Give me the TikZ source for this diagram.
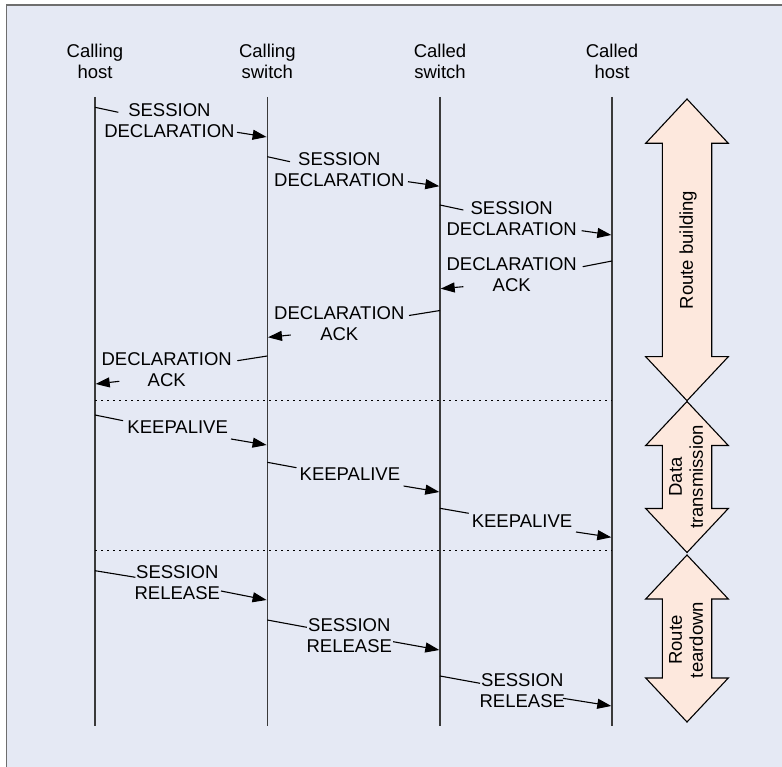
\documentclass[tikz,border=0pt]{standalone}
\usepackage{fontspec}
\setmainfont{Liberation Sans}
\usetikzlibrary{arrows.meta}
\definecolor{bgblue}{HTML}{E5E9F4}
\definecolor{framegray}{HTML}{6E6E6E}
\definecolor{peach}{HTML}{FDE8DD}
\definecolor{lifegray}{HTML}{3A3A3A}
\tikzset{
  lbl/.style={inner sep=0pt, align=center, font=\fontsize{18.5}{21}\selectfont},
  lifeline/.style={draw=lifegray, line width=1.4pt},
  tick/.style={draw=black, line width=1.1pt},
  msgarrow/.style={draw=black, line width=1.1pt, -{Triangle[length=14pt,width=10pt]}},
  sep/.style={draw=black, line width=1.1pt, dash pattern=on 1.5pt off 4.5pt},
  phase/.style={draw=black, line width=1.1pt, fill=peach, line join=miter}
}
\begin{document}
\begin{tikzpicture}[x=1pt,y=-1pt]
\useasboundingbox (0,0) rectangle (782,767);
\fill[white] (0,0) rectangle (782,767);
\fill[bgblue] (6.5,5) rectangle (782,767);
\draw[framegray, line width=1.5pt] (6.5,767) -- (6.5,5) -- (782,5);

% headers
\node[lbl] (h1) at (95,61) {Calling\\host};
\node[lbl] (h2) at (267.3,61) {Calling\\switch};
\node[lbl] (h3) at (440,61) {Called\\switch};
\node[lbl] (h4) at (612,61) {Called\\host};

% lifelines
\coordinate (t1) at (95,97);   \coordinate (e1) at (95,726);
\coordinate (t2) at (267.3,97); \coordinate (e2) at (267.3,726);
\coordinate (t3) at (440,97);  \coordinate (e3) at (440,726);
\coordinate (t4) at (612,97);  \coordinate (e4) at (612,726);
\draw[lifeline] (t1) -- (e1);
\draw[lifeline] (t2) -- (e2);
\draw[lifeline] (t3) -- (e3);
\draw[lifeline] (t4) -- (e4);

% separators
\coordinate (s1a) at (95,400.5); \coordinate (s1b) at (612,400.5);
\coordinate (s2a) at (95,550.5); \coordinate (s2b) at (612,550.5);
\draw[sep] (s1a) -- (s1b);
\draw[sep] (s2a) -- (s2b);

% ---- session declaration
\node[lbl] (m1) at (169.4,120.5) {SESSION\\DECLARATION};
\coordinate (m1a) at (95,107.3); \coordinate (m1b) at (118.3,112.3);
\coordinate (m1c) at (237,132.3); \coordinate (m1d) at (266.6,137);
\draw[tick] (m1a) -- (m1b);
\draw[msgarrow] (m1c) -- (m1d);

\node[lbl] (m2) at (339.3,169.9) {SESSION\\DECLARATION};
\coordinate (m2a) at (267.3,156.7); \coordinate (m2b) at (290,161.7);
\coordinate (m2c) at (408,181.7); \coordinate (m2d) at (439.3,186.2);
\draw[tick] (m2a) -- (m2b);
\draw[msgarrow] (m2c) -- (m2d);

\node[lbl] (m3) at (511.7,218.2) {SESSION\\DECLARATION};
\coordinate (m3a) at (440,205); \coordinate (m3b) at (463.3,210);
\coordinate (m3c) at (581.7,230.7); \coordinate (m3d) at (611.3,235);
\draw[tick] (m3a) -- (m3b);
\draw[msgarrow] (m3c) -- (m3d);

% ---- acks
\node[lbl] (k1) at (511.7,274.2) {DECLARATION\\ACK};
\coordinate (k1a) at (612,261); \coordinate (k1b) at (582.7,266.7);
\coordinate (k1c) at (463.3,286.7); \coordinate (k1d) at (440.7,288.7);
\draw[tick] (k1a) -- (k1b);
\draw[msgarrow] (k1c) -- (k1d);

\node[lbl] (k2) at (339.3,323.7) {DECLARATION\\ACK};
\coordinate (k2a) at (440,310.5); \coordinate (k2b) at (409,315.5);
\coordinate (k2c) at (290.7,335); \coordinate (k2d) at (268,337.3);
\draw[tick] (k2a) -- (k2b);
\draw[msgarrow] (k2c) -- (k2d);

\node[lbl] (k3) at (166.7,370) {DECLARATION\\ACK};
\coordinate (k3a) at (267.3,356); \coordinate (k3b) at (237.3,360.7);
\coordinate (k3c) at (119.3,381.3); \coordinate (k3d) at (95.7,384);
\draw[tick] (k3a) -- (k3b);
\draw[msgarrow] (k3c) -- (k3d);

% ---- keepalive
\node[lbl] (p1) at (177.7,427) {KEEPALIVE};
\coordinate (p1a) at (95,415); \coordinate (p1b) at (123.1,420.7);
\coordinate (p1c) at (231,439); \coordinate (p1d) at (266.6,445);
\draw[tick] (p1a) -- (p1b);
\draw[msgarrow] (p1c) -- (p1d);

\node[lbl] (p2) at (349.9,474.5) {KEEPALIVE};
\coordinate (p2a) at (267.3,462.3); \coordinate (p2b) at (296.5,467.7);
\coordinate (p2c) at (403.6,486); \coordinate (p2d) at (439.3,492);
\draw[tick] (p2a) -- (p2b);
\draw[msgarrow] (p2c) -- (p2d);

\node[lbl] (p3) at (522,521) {KEEPALIVE};
\coordinate (p3a) at (440,508.3); \coordinate (p3b) at (468.7,513.3);
\coordinate (p3c) at (576,532); \coordinate (p3d) at (611.3,537.3);
\draw[tick] (p3a) -- (p3b);
\draw[msgarrow] (p3c) -- (p3d);

% ---- session release
\node[lbl] (r1) at (177.3,582.4) {SESSION\\RELEASE};
\coordinate (r1a) at (95,570.7); \coordinate (r1b) at (135.4,577.3);
\coordinate (r1c) at (221,591); \coordinate (r1d) at (266.6,600);
\draw[tick] (r1a) -- (r1b);
\draw[msgarrow] (r1c) -- (r1d);

\node[lbl] (r2) at (349.3,635.4) {SESSION\\RELEASE};
\coordinate (r2a) at (267.3,620); \coordinate (r2b) at (306.8,627.3);
\coordinate (r2c) at (393.2,641.7); \coordinate (r2d) at (439.3,650);
\draw[tick] (r2a) -- (r2b);
\draw[msgarrow] (r2c) -- (r2d);

\node[lbl] (r3) at (522.3,690.3) {SESSION\\RELEASE};
\coordinate (r3a) at (440,676); \coordinate (r3b) at (480,683.3);
\coordinate (r3c) at (563,698.3); \coordinate (r3d) at (611.3,706);
\draw[tick] (r3a) -- (r3b);
\draw[msgarrow] (r3c) -- (r3d);

% ---- phase arrows
\draw[phase] (687,99) -- (728.3,143.3) -- (711.7,143.3) -- (711.7,356.7) -- (728.3,356.7)
  -- (687,400.7) -- (645.7,356.7) -- (662.3,356.7) -- (662.3,143.3) -- (645.7,143.3) -- cycle;
\node[lbl, rotate=90] (ph1) at (688,250) {Route building};

\draw[phase] (687,401.5) -- (728.3,445.5) -- (711.7,445.5) -- (711.7,508.5) -- (728.3,508.5)
  -- (687,552.5) -- (645.7,508.5) -- (662.3,508.5) -- (662.3,445.5) -- (645.7,445.5) -- cycle;
\node[lbl, rotate=90] (ph2) at (686,477) {Data\\transmission};

\draw[phase] (687,555) -- (728.3,599) -- (711.7,599) -- (711.7,678) -- (728.3,678)
  -- (687,722) -- (645.7,678) -- (662.3,678) -- (662.3,599) -- (645.7,599) -- cycle;
\node[lbl, rotate=90] (ph3) at (686,640) {Route\\teardown};
\end{tikzpicture}
\end{document}
